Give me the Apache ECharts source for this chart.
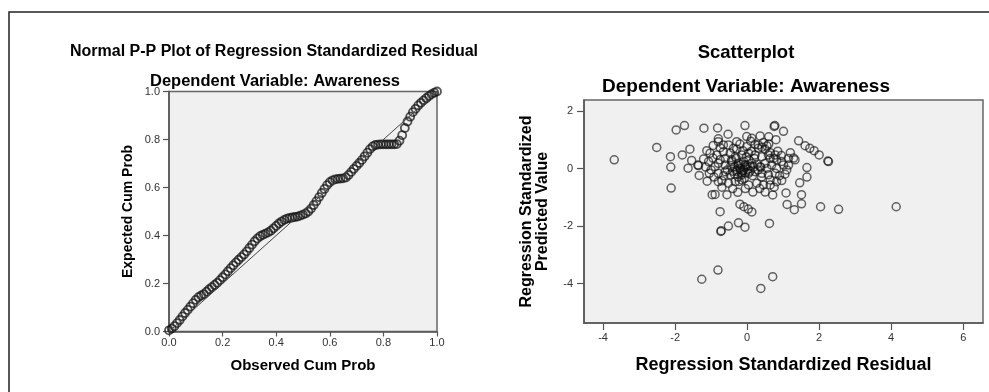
<!DOCTYPE html>
<html lang="en" style="height: 100%">
<head>
  <meta charset="utf-8">
</head>
<body style="height: 100%; margin: 0; background: #fff">
  <div id="container" style="width: 989px; height: 392px"></div>

  <script type="text/javascript" src="https://fastly.jsdelivr.net/npm/echarts@6.0.0/dist/echarts.min.js"></script>
  <script type="text/javascript">
// P-P plot: observed vs expected cumulative probability
var ppObserved = [0.00, 0.01, 0.02, 0.03, 0.04, 0.05, 0.06, 0.07, 0.08, 0.09,
  0.10, 0.11, 0.12, 0.13, 0.14, 0.15, 0.16, 0.17, 0.18, 0.19,
  0.20, 0.21, 0.22, 0.23, 0.24, 0.25, 0.26, 0.27, 0.28, 0.29,
  0.30, 0.31, 0.32, 0.33, 0.34, 0.35, 0.36, 0.37, 0.38, 0.39,
  0.40, 0.41, 0.42, 0.43, 0.44, 0.45, 0.46, 0.47, 0.48, 0.49,
  0.50, 0.51, 0.52, 0.53, 0.54, 0.55, 0.56, 0.57, 0.58, 0.59,
  0.60, 0.61, 0.62, 0.63, 0.64, 0.65, 0.66, 0.67, 0.68, 0.69,
  0.70, 0.71, 0.72, 0.73, 0.74, 0.75, 0.76, 0.77, 0.78, 0.79,
  0.80, 0.81, 0.82, 0.83, 0.84, 0.85, 0.86, 0.87, 0.88, 0.89,
  0.90, 0.91, 0.92, 0.93, 0.94, 0.95, 0.96, 0.97, 0.98, 0.99, 1.00];
var ppExpected = [0.005, 0.012, 0.022, 0.035, 0.048, 0.063, 0.077, 0.090, 0.104, 0.118,
  0.132, 0.143, 0.150, 0.156, 0.166, 0.176, 0.185, 0.194, 0.203, 0.214,
  0.226, 0.238, 0.251, 0.264, 0.276, 0.288, 0.299, 0.310, 0.321, 0.334,
  0.348, 0.362, 0.376, 0.388, 0.397, 0.403, 0.408, 0.413, 0.420, 0.430,
  0.440, 0.450, 0.458, 0.465, 0.470, 0.473, 0.475, 0.477, 0.479, 0.483,
  0.487, 0.492, 0.500, 0.512, 0.527, 0.543, 0.560, 0.577, 0.594, 0.610,
  0.622, 0.630, 0.634, 0.636, 0.637, 0.638, 0.642, 0.652, 0.665, 0.678,
  0.690, 0.702, 0.715, 0.730, 0.745, 0.760, 0.771, 0.777, 0.779, 0.780,
  0.780, 0.780, 0.780, 0.780, 0.780, 0.781, 0.795, 0.818, 0.848, 0.875,
  0.895, 0.914, 0.928, 0.942, 0.953, 0.963, 0.972, 0.981, 0.989, 0.995, 1.000];
var diagLine = [0, 1];

// Scatterplot: standardized residual (x) vs standardized predicted value (y)
var residualX = [-3.69, -2.51, -2.13, -2.12, -2.11, -1.97, -1.74, -1.80, -1.59, -1.64,
  -1.54, -1.35, -1.37, -1.33, -1.21, -1.20, -1.11, -1.05, -1.07, -1.03,
  -0.94, -0.89, -0.97, -0.80, -0.82, -0.75, -0.80, -0.73, -0.72, -0.52,
  -0.24, -0.06, 0.62, -0.81, -1.26, 0.71, 0.38, -0.20, -0.09, 0.03,
  0.13, -0.56, -0.26, 0.16, 0.50, 0.71, 1.08, 1.51, 1.11, 1.31,
  1.51, 2.04, 2.54, 4.14, -0.06, 0.77, 0.75, 1.01, -0.53, -0.01,
  0.13, 0.36, 1.43, 1.61, 1.74, 1.86, 2.00, 2.26, 2.24, 1.66,
  1.66, 1.46, 1.29, 1.33, 1.01, 1.15, 0.82, 0.64, 0.50, 0.64,
  0.31, 0.41, -0.01, 0.36, 0.38, 0.64, 0.96, -0.70, -0.43, -0.29,
  -0.66, -0.75, -0.80, -0.75, -0.52, -0.29, 0.22, 0.31, 0.55, 0.78,
  -0.84, -0.66, -0.47, -0.33, -0.15, 0.04, 0.22, 0.41, 0.59, 0.73,
  0.96, 1.15, -0.80, -0.61, -0.43, -0.24, -0.06, 0.13, 0.50, 0.68,
  0.82, -0.80, -0.61, -0.47, -0.29, -0.15, 0.04, 0.22, 0.41, 0.59,
  0.78, -0.52, -0.33, -0.15, 0.04, 0.27, 0.45, 0.64, 0.82, 1.05,
  -0.89, -0.35, -0.28, -0.20, -0.12, -0.05, 0.02, 0.10, -0.18, -0.10,
  0.05, 0.15, -0.25, -0.40, -0.08, 0.20, -0.30, -0.45, 0.28, 0.30,
  -0.02, -0.15, 0.08, -0.22, 0.12, -0.12, -0.38, 0.40, 0.55, -0.55,
  -0.60, -0.20, 0.10, 0.45, 0.60, 0.85, 0.90, 0.75, 0.35, -0.05,
  -0.40, -0.70, -0.95, -1.00, -0.92, -1.12, -1.15, -0.65, -0.10, -0.18,
  0.00, -0.25, -0.05, 0.18, -0.35, 0.95, 1.10, 1.20, 0.60, 0.80];
var predictedY = [0.30, 0.73, 0.41, 0.05, -0.68, 1.34, 1.49, 0.47, 0.67, 0.01,
  0.28, 0.10, 0.12, -0.24, 0.33, 1.40, -0.44, -0.17, 0.24, 0.53,
  0.80, 0.06, -0.91, 1.03, 1.41, -1.50, -0.46, -2.19, -2.16, -2.00,
  -1.89, -2.04, -1.91, -3.53, -3.85, -3.76, -4.17, -1.24, -1.33, -1.41,
  -1.51, -0.91, -0.83, -0.82, -0.82, -0.92, -0.85, -0.91, -1.25, -1.43,
  -1.23, -1.33, -1.42, -1.33, 1.49, 1.49, 1.46, 1.29, 1.19, 1.11,
  1.05, 1.13, 0.96, 0.79, 0.70, 0.62, 0.47, 0.24, 0.26, 0.03,
  -0.30, -0.50, 0.36, 0.30, 0.12, 0.12, 0.30, 0.35, 0.67, 0.55,
  0.82, 0.74, 0.76, 0.06, 0.04, -0.40, -0.42, -0.43, 0.30, 0.67,
  0.82, 0.30, 0.93, 0.72, 0.82, 0.93, 0.84, 0.70, 0.78, 0.47,
  0.47, 0.58, 0.53, 0.41, 0.47, 0.53, 0.47, 0.41, 0.47, 0.35,
  0.24, 0.35, 0.18, 0.12, 0.24, 0.18, 0.12, 0.18, 0.18, 0.12,
  0.00, -0.17, -0.11, -0.22, -0.11, -0.22, -0.17, -0.11, -0.17, -0.22,
  -0.17, -0.51, -0.46, -0.40, -0.57, -0.51, -0.57, -0.57, -0.46, -0.20,
  -0.90, 0.05, -0.05, 0.02, -0.08, 0.05, -0.03, 0.08, 0.15, 0.25,
  0.30, -0.25, -0.30, -0.10, -0.35, 0.35, 0.35, 0.10, 0.15, -0.05,
  0.40, -0.15, -0.10, -0.45, 0.60, 0.62, 0.70, -0.30, 0.00, -0.05,
  0.35, 0.85, 0.95, 0.90, 0.85, 0.60, -0.25, -0.65, -0.70, -0.70,
  -0.70, -0.65, 0.36, -0.05, -0.30, 0.62, 0.05, -0.25, -0.05, -0.02,
  0.10, 0.10, -0.15, 0.05, -0.20, 0.45, -0.05, 0.55, 1.10, 1.00];

var ppTicks = [0, 0.2, 0.4, 0.6, 0.8, 1.0];
var residualTicks = [-4, -2, 0, 2, 4, 6];
var predictedTicks = [-4, -2, 0, 2];

var FONT = '"Liberation Sans", Arial, sans-serif';

var ppPoints = ppObserved.map(function (x, i) { return [x, ppExpected[i]]; });
var scatterPoints = residualX.map(function (x, i) { return [x, predictedY[i]]; });

var dom = document.getElementById('container');
var myChart = echarts.init(dom, null, { renderer: 'canvas' });

function tickLabel(size) {
  return { color: '#333', fontSize: size, fontFamily: FONT };
}
function axisName(size) {
  return { color: '#000', fontSize: size, fontWeight: 'bold', fontFamily: FONT };
}

var option = {
  animation: false,
  backgroundColor: '#fff',
  graphic: [
    {
      type: 'rect', z: -10, silent: true,
      shape: { x: 9, y: 12, width: 1000, height: 420 },
      style: { fill: 'none', stroke: '#222', lineWidth: 1.5 }
    },
    {
      type: 'text', x: 274, y: 52,
      style: { text: 'Normal P-P Plot of Regression Standardized Residual', fill: '#000',
        font: 'bold 16px ' + FONT, textAlign: 'center', textVerticalAlign: 'middle' }
    },
    {
      type: 'text', x: 275, y: 81,
      style: { text: 'Dependent Variable: Awareness', fill: '#000',
        font: 'bold 16.5px ' + FONT, textAlign: 'center', textVerticalAlign: 'middle' }
    },
    {
      type: 'text', x: 746, y: 53,
      style: { text: 'Scatterplot', fill: '#000',
        font: 'bold 18.5px ' + FONT, textAlign: 'center', textVerticalAlign: 'middle' }
    },
    {
      type: 'text', x: 746, y: 87,
      style: { text: 'Dependent Variable: Awareness', fill: '#000',
        font: 'bold 19px ' + FONT, textAlign: 'center', textVerticalAlign: 'middle' }
    }
  ],
  grid: [
    { left: 169, top: 91.5, width: 268, height: 240, show: true,
      backgroundColor: '#f0f0f0', borderColor: '#666', borderWidth: 1.5 },
    { left: 584, top: 100, width: 399, height: 223, show: true,
      backgroundColor: '#f0f0f0', borderColor: '#666', borderWidth: 1.5 }
  ],
  xAxis: [
    {
      type: 'value', gridIndex: 0, min: 0, max: 1, interval: 0.2,
      axisLine: { onZero: false, lineStyle: { color: '#555', width: 1.5 } },
      axisTick: { length: 5, lineStyle: { color: '#555', width: 1.2 } },
      axisLabel: Object.assign(tickLabel(11), { margin: 6, formatter: function (v) { return v.toFixed(1); } }),
      splitLine: { show: false },
      name: 'Observed Cum Prob', nameLocation: 'middle', nameGap: 27, nameTextStyle: axisName(15)
    },
    {
      type: 'value', gridIndex: 1, min: -4.53, max: 6.55,
      axisLine: { onZero: false, lineStyle: { color: '#555', width: 1.5 } },
      axisTick: { length: 7, customValues: residualTicks, lineStyle: { color: '#555', width: 1.2 } },
      axisLabel: Object.assign(tickLabel(11), { margin: 9, customValues: residualTicks }),
      splitLine: { show: false },
      name: 'Regression Standardized Residual', nameLocation: 'middle', nameGap: 33, nameTextStyle: axisName(18)
    }
  ],
  yAxis: [
    {
      type: 'value', gridIndex: 0, min: 0, max: 1, interval: 0.2,
      axisLine: { onZero: false, lineStyle: { color: '#555', width: 1.5 } },
      axisTick: { length: 6, lineStyle: { color: '#555', width: 1.2 } },
      axisLabel: Object.assign(tickLabel(11), { margin: 9, formatter: function (v) { return v.toFixed(1); } }),
      splitLine: { show: false },
      name: 'Expected Cum Prob', nameLocation: 'middle', nameGap: 34, nameTextStyle: axisName(14)
    },
    {
      type: 'value', gridIndex: 1, min: -5.37, max: 2.38,
      axisLine: { onZero: false, lineStyle: { color: '#555', width: 1.5 } },
      axisTick: { length: 7, customValues: predictedTicks, lineStyle: { color: '#555', width: 1.2 } },
      axisLabel: Object.assign(tickLabel(11), { margin: 11, customValues: predictedTicks }),
      splitLine: { show: false },
      name: 'Regression Standardized\nPredicted Value', nameLocation: 'middle', nameGap: 33,
      nameTextStyle: Object.assign(axisName(16), { lineHeight: 16 })
    }
  ],
  series: [
    {
      type: 'line', xAxisIndex: 0, yAxisIndex: 0,
      data: [[diagLine[0], diagLine[0]], [diagLine[1], diagLine[1]]],
      symbol: 'none', silent: true,
      lineStyle: { color: '#444', width: 1 }
    },
    {
      type: 'scatter', xAxisIndex: 0, yAxisIndex: 0, data: ppPoints,
      symbol: 'circle', symbolSize: 8,
      itemStyle: { color: 'rgba(0,0,0,0)', borderColor: 'rgba(20,20,20,0.9)', borderWidth: 1.8 }
    },
    {
      type: 'scatter', xAxisIndex: 1, yAxisIndex: 1, data: scatterPoints,
      symbol: 'circle', symbolSize: 8,
      itemStyle: { color: 'rgba(0,0,0,0)', borderColor: 'rgba(15,15,15,0.8)', borderWidth: 1.5 }
    }
  ]
};

myChart.setOption(option);
window.addEventListener('resize', myChart.resize);
  </script>
</body>
</html>
